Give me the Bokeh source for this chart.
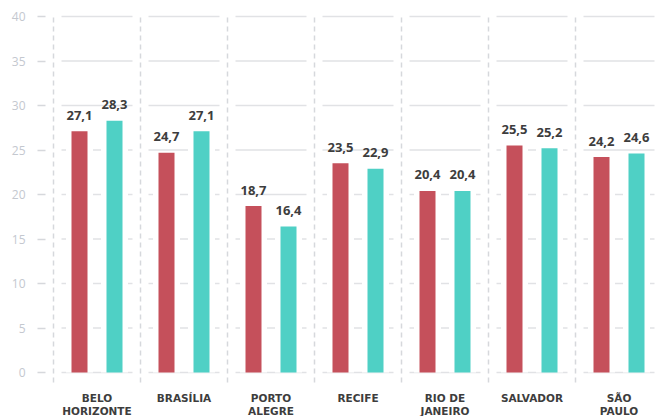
from bokeh.plotting import figure
from bokeh.models import Range1d, FixedTicker, LinearAxis, ColumnDataSource
from bokeh.core.properties import value
from bokeh.embed import file_html
from bokeh.resources import INLINE

# ---- data ----
cities = ["Belo Horizonte", "Brasília", "Porto Alegre", "Recife", "Rio de Janeiro", "Salvador", "São Paulo"]
tick_labels = ["BELO\nHORIZONTE", "BRASÍLIA", "PORTO\nALEGRE", "RECIFE", "RIO DE\nJANEIRO", "SALVADOR", "SÃO\nPAULO"]
series_a = [27.1, 24.7, 18.7, 23.5, 20.4, 25.5, 24.2]
series_b = [28.3, 27.1, 16.4, 22.9, 20.4, 25.2, 24.6]
label_a = ["27,1", "24,7", "18,7", "23,5", "20,4", "25,5", "24,2"]
label_b = ["28,3", "27,1", "16,4", "22,9", "20,4", "25,2", "24,6"]
y_ticks = [0, 5, 10, 15, 20, 25, 30, 35, 40]

# ---- styles ----
RED = "#c5505b"
TEAL = "#4fd0c5"
GRID = "#e1e2e5"
SEP = "#d6d8dc"
TXT = "#3d3d3d"
YLAB = "#c4c8cf"

CAT_PX = 87.0
PX_PER_UNIT = 8.9
n = len(cities)
pad = 8 / CAT_PX
off = 17.5 / CAT_PX
bw = 16 / CAT_PX
wbw = 27 / CAT_PX

p = figure(width=659, height=416, output_backend="svg", toolbar_location=None,
           x_axis_type=None, y_axis_type=None,
           x_range=Range1d(-pad, (659 - 53) / CAT_PX),
           y_range=Range1d(-44 / PX_PER_UNIT, 40 + 16 / PX_PER_UNIT),
           min_border_left=45, min_border_right=0, min_border_top=0, min_border_bottom=0)
p.outline_line_color = None
p.xgrid.visible = False
p.ygrid.visible = False
p.background_fill_color = "white"
p.border_fill_color = "white"

centers = [i + 0.5 for i in range(n)]

# horizontal grid segments per category
gx0, gx1, gy = [], [], []
for i in range(n):
    for t in y_ticks:
        gx0.append(i + pad)
        gx1.append(i + 1 - pad)
        gy.append(t)
p.segment(x0=gx0, y0=gy, x1=gx1, y1=gy, line_color=GRID, line_width=1.5)

xa = [c - off for c in centers]
xb = [c + off for c in centers]

# white backing behind bars
p.vbar(x=xa, top=series_a, bottom=0, width=wbw, fill_color="white", line_color=None)
p.vbar(x=xb, top=series_b, bottom=0, width=wbw, fill_color="white", line_color=None)

p.vbar(x=xa, top=series_a, bottom=0, width=bw, fill_color=RED, line_color=None)
p.vbar(x=xb, top=series_b, bottom=0, width=bw, fill_color=TEAL, line_color=None)

# vertical dashed separators
sx = list(range(n + 1))
p.segment(x0=sx, y0=[-10 / PX_PER_UNIT] * len(sx), x1=sx, y1=[40 + 3 / PX_PER_UNIT] * len(sx),
          line_color=SEP, line_width=1.5, line_dash="5 4")

# value labels
src_a = ColumnDataSource(dict(x=xa, y=series_a, t=label_a))
src_b = ColumnDataSource(dict(x=xb, y=series_b, t=label_b))
for src in (src_a, src_b):
    p.text(x="x", y="y", text="t", source=src, text_align="center", text_baseline="alphabetic",
           y_offset=-16, text_font=value("Open Sans"), text_font_style="bold",
           text_font_size="13px", text_color=TXT)

# category labels
src_c = ColumnDataSource(dict(x=centers, y=[0] * n, t=tick_labels))
p.text(x="x", y="y", text="t", source=src_c, text_align="center", text_baseline="top",
       y_offset=19, text_font=value("DejaVu Sans"), text_font_style="bold",
       text_font_size="10.5px", text_color=TXT, text_line_height=1.1)

# y axis
yax = LinearAxis(ticker=FixedTicker(ticks=y_ticks))
yax.axis_line_color = None
yax.major_tick_out = 8
yax.major_tick_in = 0
yax.minor_tick_line_color = None
yax.major_tick_line_color = SEP
yax.major_tick_line_width = 1.5
yax.major_label_standoff = 12
yax.major_label_text_font = "Open Sans"
yax.major_label_text_font_size = "12px"
yax.major_label_text_color = YLAB
p.add_layout(yax, "left")

open("out.html", "w").write(file_html(p, INLINE))
